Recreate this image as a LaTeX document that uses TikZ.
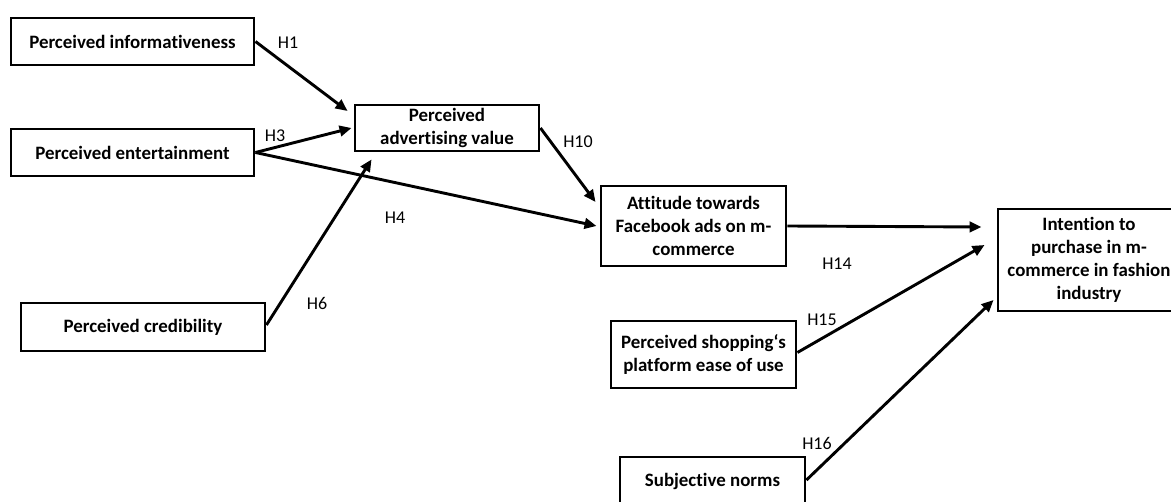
\documentclass[tikz,border=0pt]{standalone}
\usepackage{fontspec}
\setmainfont{Carlito}[Ligatures=NoCommon]
\usetikzlibrary{arrows.meta}
\tikzset{
  box/.style={draw, line width=2.9pt, rectangle, inner sep=0pt, align=center,
    font=\bfseries\fontsize{18.9}{22.8}\selectfont},
  conn/.style={line width=2.9pt, -{Triangle[length=12pt,width=10.5pt]}},
  hlab/.style={inner sep=0pt, font=\fontsize{18}{22}\selectfont}
}
\begin{document}
\begin{tikzpicture}[x=1pt,y=-1pt]
\useasboundingbox (0,0) rectangle (1171,502);
\clip (0,0) rectangle (1171,502);
\fill[white] (0,0) rectangle (1171,502);
% boxes
\node[box, minimum width=243pt, minimum height=47pt] (inf) at (132.5,41.5) {Perceived informativeness};
\node[box, minimum width=243pt, minimum height=47pt] (ent) at (132.5,152.5) {Perceived entertainment};
\node[box, minimum width=244pt, minimum height=48pt] (cred) at (143,327) {Perceived credibility};
\node[box, minimum width=184pt, minimum height=46pt] (adv) at (447,128) {Perceived\\advertising value};
\node[box, minimum width=185pt, minimum height=80pt] (att) at (693.5,226) {Attitude towards\\Facebook ads on m-\\commerce};
\node[box, minimum width=185pt, minimum height=67pt] (shop) at (703.5,354.5) {Perceived shopping‘s\\platform ease of use};
\node[box, minimum width=185pt, minimum height=48pt] (subj) at (712.5,481) {Subjective norms};
\node[box, minimum width=182pt, minimum height=102pt] (int) at (1089,260) {Intention to\\purchase in m-\\commerce in fashion\\industry};
% connectors
\draw[conn] (inf.east) -- ([xshift=-6pt,yshift=17pt]adv.west);
\draw[conn] (ent.east) -- ([xshift=-2pt]adv.west);
\draw[conn] (ent.east) -- ([xshift=-3pt]att.west);
\draw[conn] ([yshift=2pt]cred.east) -- ([xshift=18pt,yshift=-7pt]adv.south west);
\draw[conn] (adv.east) -- ([xshift=-4pt,yshift=24pt]att.west);
\draw[conn] (att.east) -- ([xshift=-15pt,yshift=33pt]int.west);
\draw[conn] ([yshift=2pt]shop.east) -- ([xshift=-12pt,yshift=15pt]int.west);
\draw[conn] ([yshift=1pt]subj.east) -- ([xshift=-3pt,yshift=-40pt]int.west);
% labels
\node[hlab] (h1) at (288,43) {H1};
\node[hlab] (h3) at (275,136) {H3};
\node[hlab] (h4) at (395,218) {H4};
\node[hlab] (h6) at (317,303) {H6};
\node[hlab] (h10) at (578,142) {H10};
\node[hlab] (h14) at (837,264) {H14};
\node[hlab] (h15) at (822,320) {H15};
\node[hlab] (h16) at (817,443) {H16};
\end{tikzpicture}
\end{document}
